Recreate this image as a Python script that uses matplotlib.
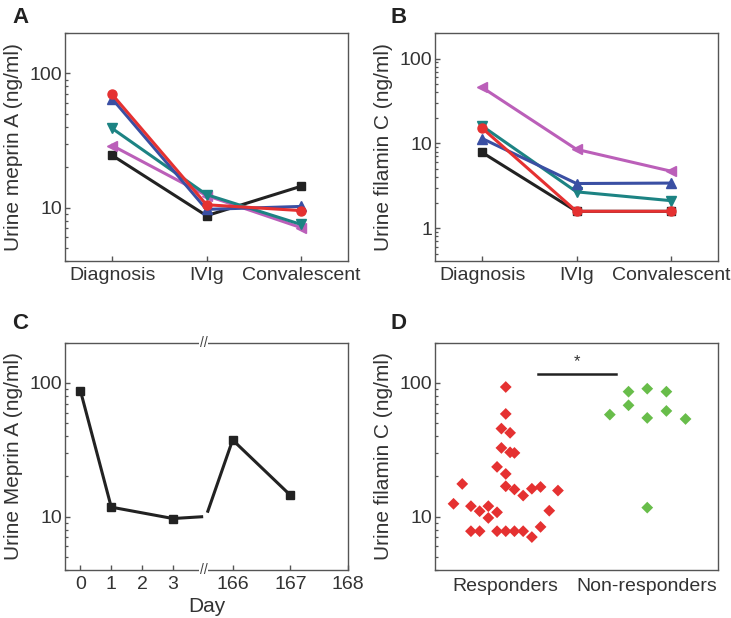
import numpy as np
import matplotlib
matplotlib.use("Agg")
import matplotlib.pyplot as plt
from matplotlib.ticker import FixedLocator, LogLocator, NullFormatter

plt.rcParams['font.family'] = ['Liberation Sans', 'DejaVu Sans']
plt.rcParams['text.color'] = '#333333'
plt.rcParams['axes.labelcolor'] = '#333333'
plt.rcParams['xtick.color'] = '#555555'
plt.rcParams['ytick.color'] = '#555555'
plt.rcParams['xtick.labelcolor'] = '#333333'
plt.rcParams['ytick.labelcolor'] = '#333333'

# ---- data ----
stages = ["Diagnosis", "IVIg", "Convalescent"]

# panel A: urine meprin A per patient
meprin_black = [24.5, 8.7, 14.4]
meprin_magenta = [29.0, 12.3, 7.1]
meprin_teal = [38.9, 12.5, 7.5]
meprin_blue = [64.7, 9.7, 10.2]
meprin_red = [69.7, 10.5, 9.5]

# panel B: urine filamin C per patient
filamin_black = [7.8, 1.58, 1.58]
filamin_magenta = [45.6, 8.5, 4.7]
filamin_teal = [16.0, 2.68, 2.11]
filamin_blue = [11.4, 3.36, 3.4]
filamin_red = [15.1, 1.58, 1.58]

# panel C: one patient over time
days = [0, 1, 3, 166, 167]
meprin_days = [87.6, 11.8, 9.7, 37.5, 14.5]
stub_days = [3.93, 165.57]     # where the line meets the axis break
stub_vals = [10.0, 11.0]

# panel D: filamin C, responders vs non-responders
resp_col = [0, 0, -0.5, 0.5, -0.5, 0.5, 1, -1, 0, 0, 1, 2, 3, 4, 6, -5, -6,
            -4, -3, -2, -1, -2, 5, 4, 3, -4, -3, -1, 0, 1, 2]
resp_vals = [93.3, 58.7, 45.6, 42.4, 32.7, 30.3, 30.0, 23.6, 20.9, 16.9, 16.0,
             14.4, 16.2, 16.7, 15.7, 17.6, 12.5, 12.0, 11.0, 12.0, 10.8, 9.8,
             11.1, 8.4, 7.05, 7.8, 7.8, 7.8, 7.8, 7.8, 7.8]
nonresp_col = [0, -2.15, 2.2, -2.15, -4.3, 2.2, 0, 4.4, 0]
nonresp_vals = [90.6, 86.1, 86.1, 68.1, 58.0, 61.8, 54.8, 53.8, 11.7]
groups = ["Responders", "Non-responders"]
sig_y = 117

red = '#e53131'
blue = '#3a4fa3'
teal = '#1c8383'
magenta = '#bb5fb9'
black = '#222222'
green = '#68bd4a'

fig = plt.figure(figsize=(7.31, 6.18), dpi=100)
W, H = 731, 618


def make_ax(x0, y0, x1, y1):
    return fig.add_axes([x0 / W, 1 - y1 / H, (x1 - x0) / W, (y1 - y0) / H])


def style(ax, ylabel):
    for sp in ax.spines.values():
        sp.set_color('#555555')
        sp.set_linewidth(1.0)
    ax.set_yscale('log')
    ax.yaxis.set_minor_locator(LogLocator(base=10, subs=np.arange(2, 10)))
    ax.yaxis.set_minor_formatter(NullFormatter())
    ax.tick_params(axis='both', which='major', direction='in', length=3.6,
                   width=1.0, labelsize=14, pad=2)
    ax.tick_params(axis='x', which='major', pad=4)
    ax.tick_params(axis='both', which='minor', direction='in', length=2.2,
                   width=0.9)
    ax.set_ylabel(ylabel, fontsize=15, va='center')
    ax.yaxis.set_label_coords(-0.183, 0.5)


series_style = [('s', black, 5.5), ('<', magenta, 7), ('v', teal, 7),
                ('^', blue, 7), ('o', red, 6.5)]

# ---- A ----
axA = make_ax(65, 33, 348, 261)
style(axA, "Urine meprin A (ng/ml)")
xs = np.arange(len(stages))
for vals, (m, c, ms) in zip([meprin_black, meprin_magenta, meprin_teal,
                             meprin_blue, meprin_red], series_style):
    axA.plot(xs, vals, marker=m, color=c, ms=ms, lw=2.2)
axA.set_xlim(-0.5, 2.5)
axA.set_ylim(4, 200)
axA.set_xticks(xs)
axA.set_xticklabels(stages)
axA.set_yticks([10, 100])
axA.set_yticklabels(["10", "100"])

# ---- B ----
axB = make_ax(435, 33, 718, 261)
style(axB, "Urine filamin C (ng/ml)")
for vals, (m, c, ms) in zip([filamin_black, filamin_magenta, filamin_teal,
                             filamin_blue, filamin_red], series_style):
    axB.plot(xs, vals, marker=m, color=c, ms=ms, lw=2.2)
axB.set_xlim(-0.5, 2.5)
axB.set_ylim(0.41, 200)
axB.set_xticks(xs)
axB.set_xticklabels(stages)
axB.set_yticks([1, 10, 100])
axB.set_yticklabels(["1", "10", "100"])

# ---- C (broken x axis) ----
b0, b1, k = 4.0, 165.5, 1.87


def fwd(d):
    d = np.asarray(d, dtype=float)
    return np.where(d <= b0, d, b0 + (np.maximum(d, b1) - b1) * k)


def inv(x):
    x = np.asarray(x, dtype=float)
    return np.where(x <= b0, x, b1 + (x - b0) / k)


axC = make_ax(65, 342.7, 348, 570)
style(axC, "Urine Meprin A (ng/ml)")
axC.set_xscale('function', functions=(fwd, inv))
axC.plot(days[:3] + [stub_days[0]], meprin_days[:3] + [stub_vals[0]],
         color=black, lw=2.2)
axC.plot([stub_days[1]] + days[3:], [stub_vals[1]] + meprin_days[3:],
         color=black, lw=2.2)
axC.plot(days, meprin_days, 's', color=black, ms=5.5)
axC.set_xlim(-0.5, 168)
axC.set_ylim(4, 200)
axC.xaxis.set_major_locator(FixedLocator([0, 1, 2, 3, 166, 167, 168]))
axC.xaxis.set_minor_locator(FixedLocator([]))
axC.set_xticklabels(["0", "1", "2", "3", "166", "167", "168"])
axC.set_yticks([10, 100])
axC.set_yticklabels(["10", "100"])
axC.set_xlabel("Day", fontsize=15)
axC.xaxis.set_label_coords(0.5, -0.118)
for yy in (0, 1):
    axC.text((b0 + b1) / 2, yy, "//", transform=axC.get_xaxis_transform(),
             ha='center', va='center', fontsize=10, color='#444444',
             bbox=dict(boxstyle='square,pad=0.05', fc='white', ec='none'),
             clip_on=False)

# ---- D ----
axD = make_ax(435, 342.7, 718, 570)
style(axD, "Urine filamin C (ng/ml)")
col_w = 0.0615
axD.scatter(0 + np.array(resp_col) * col_w, resp_vals, marker='D', s=36,
            color=red, edgecolors='none', zorder=3)
axD.scatter(1 + np.array(nonresp_col) * col_w, nonresp_vals, marker='D', s=36,
            color=green, edgecolors='none', zorder=3)
axD.set_xlim(-0.5, 1.5)
axD.set_ylim(4, 200)
axD.set_xticks([0, 1])
axD.set_xticklabels(groups)
axD.tick_params(axis='x', length=0, pad=6)
axD.set_yticks([10, 100])
axD.set_yticklabels(["10", "100"])
axD.plot([0.227, 0.78], [sig_y, sig_y], color=black, lw=1.8)
axD.text(0.503, 145, "*", ha='center', va='center', fontsize=12)

# panel letters
for lab, x, y in [("A", 12, 23), ("B", 390, 23), ("C", 12, 329), ("D", 391, 329)]:
    fig.text(x / W, 1 - y / H, lab, fontsize=16, fontweight='bold',
             color='#222222', ha='left', va='baseline')

fig.savefig("out.png", dpi=100)
